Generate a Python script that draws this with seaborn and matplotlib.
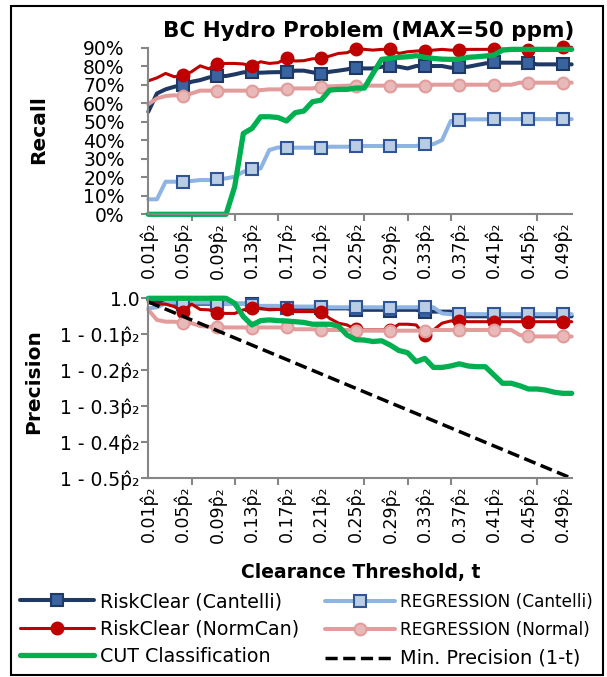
import matplotlib
matplotlib.use('Agg')
import pandas as pd
import seaborn as sns
import matplotlib.pyplot as plt
from matplotlib.lines import Line2D
from matplotlib.patches import Rectangle

# clearance thresholds t = 0.01 ... 0.50 (category axis)
thresholds = [round(0.01 * k, 2) for k in range(1, 51)]
label_pos = [0.01, 0.05, 0.09, 0.13, 0.17, 0.21, 0.25, 0.29, 0.33, 0.37, 0.41, 0.45, 0.49]
tickmark_pos = [0.01, 0.06, 0.11, 0.16, 0.21, 0.26, 0.31, 0.36, 0.41, 0.46]
x_labels = [f'{v:.2f}p\u0302\u2082' for v in label_pos]

recall_ticks = [0, 10, 20, 30, 40, 50, 60, 70, 80, 90]
recall_labels = ['0%', '10%', '20%', '30%', '40%', '50%', '60%', '70%', '80%', '90%']
prec_ticks = [1.0, 0.9, 0.8, 0.7, 0.6, 0.5]
prec_labels = ['1.0', '1 - 0.1p\u0302\u2082', '1 - 0.2p\u0302\u2082', '1 - 0.3p\u0302\u2082',
               '1 - 0.4p\u0302\u2082', '1 - 0.5p\u0302\u2082']

# recall (%)
rc_cantelli_recall = [55.4, 65.3, 67.5, 68.9, 69.8, 71.6, 72.5, 73.9, 74.7, 74.7,
                      75.6, 76.7, 76.7, 76.5, 76.7, 76.8, 76.7, 77.6, 77.6, 76.7,
                      75.9, 77.0, 77.6, 78.3, 79.2, 78.8, 78.8, 79.7, 80.1, 79.7,
                      78.8, 80.1, 80.1, 80.1, 80.1, 79.2, 79.7, 79.7, 80.6, 81.5,
                      82.1, 81.9, 81.9, 81.9, 81.9, 81.0, 81.0, 81.0, 81.0, 81.0]
reg_cantelli_recall = [8.1, 8.1, 17.6, 17.6, 17.6, 18.0, 18.5, 18.5, 18.9, 19.4,
                       20.3, 23.0, 24.3, 24.8, 34.7, 36.1, 36.0, 36.0, 36.0, 36.0,
                       36.0, 36.5, 36.5, 36.5, 36.9, 36.9, 36.9, 36.9, 36.9, 36.9,
                       36.9, 36.9, 37.9, 37.9, 40.1, 50.4, 50.9, 51.3, 51.3, 51.3,
                       51.4, 51.4, 51.4, 51.4, 51.4, 51.4, 51.4, 51.4, 51.4, 51.4]
rc_normcan_recall = [72.1, 73.7, 76.1, 74.3, 75.0, 77.0, 80.2, 78.6, 81.3, 81.5,
                     81.5, 81.2, 80.2, 82.4, 81.5, 81.9, 84.2, 82.8, 83.0, 84.0,
                     84.2, 85.5, 86.9, 87.3, 89.4, 89.1, 88.7, 89.1, 89.1, 86.9,
                     87.8, 88.2, 88.4, 88.7, 89.1, 88.7, 88.7, 89.1, 89.1, 89.1,
                     89.2, 89.2, 89.2, 89.2, 88.9, 89.1, 89.1, 89.1, 90.2, 90.2]
reg_normal_recall = [59.5, 62.6, 63.9, 64.3, 63.9, 65.3, 66.8, 66.8, 66.8, 66.8,
                     66.8, 66.8, 66.8, 67.1, 67.5, 67.5, 67.5, 68.0, 68.0, 68.0,
                     68.9, 69.1, 69.3, 69.5, 69.5, 69.5, 69.5, 69.5, 69.5, 69.5,
                     69.5, 69.5, 69.5, 70.0, 70.0, 70.0, 70.0, 70.0, 70.0, 70.0,
                     70.0, 70.0, 70.0, 71.1, 71.1, 71.1, 71.1, 71.1, 71.1, 71.1]
cut_recall = [0.0, 0.0, 0.0, 0.0, 0.0, 0.0, 0.0, 0.0, 0.0, 0.0,
              15.0, 43.7, 46.4, 52.7, 52.7, 52.3, 50.4, 54.9, 55.8, 60.8,
              61.7, 67.1, 67.5, 67.5, 68.2, 68.2, 76.1, 83.7, 84.2, 84.8,
              85.1, 85.7, 84.8, 84.2, 83.8, 83.7, 83.7, 84.8, 85.1, 85.5,
              86.0, 88.7, 89.1, 89.1, 89.1, 89.1, 89.1, 89.1, 89.1, 89.1]

# precision
rc_cantelli_prec = [0.995, 0.990, 0.985, 0.985, 0.985, 0.985, 0.985, 0.985, 0.988, 0.985,
                    0.985, 0.985, 0.985, 0.972, 0.972, 0.972, 0.972, 0.972, 0.972, 0.972,
                    0.972, 0.972, 0.972, 0.972, 0.968, 0.968, 0.968, 0.968, 0.966, 0.968,
                    0.968, 0.968, 0.963, 0.963, 0.963, 0.963, 0.950, 0.950, 0.950, 0.950,
                    0.950, 0.950, 0.950, 0.950, 0.950, 0.950, 0.950, 0.950, 0.950, 0.950]
reg_cantelli_prec = [0.972, 0.975, 0.986, 0.988, 0.988, 0.988, 0.988, 0.988, 0.988, 0.984,
                     0.984, 0.984, 0.981, 0.979, 0.979, 0.979, 0.972, 0.977, 0.977, 0.977,
                     0.977, 0.975, 0.975, 0.975, 0.975, 0.975, 0.975, 0.975, 0.972, 0.975,
                     0.975, 0.975, 0.977, 0.975, 0.958, 0.956, 0.956, 0.956, 0.956, 0.956,
                     0.956, 0.956, 0.956, 0.956, 0.956, 0.956, 0.956, 0.956, 0.956, 0.956]
rc_normcan_prec = [0.988, 0.984, 0.984, 0.977, 0.963, 0.984, 0.969, 0.968, 0.960, 0.958,
                   0.958, 0.968, 0.972, 0.972, 0.968, 0.969, 0.969, 0.963, 0.963, 0.963,
                   0.963, 0.944, 0.931, 0.926, 0.914, 0.912, 0.912, 0.912, 0.912, 0.928,
                   0.928, 0.926, 0.898, 0.912, 0.931, 0.937, 0.938, 0.935, 0.935, 0.935,
                   0.935, 0.935, 0.935, 0.935, 0.935, 0.935, 0.935, 0.935, 0.935, 0.935]
reg_normal_prec = [0.968, 0.940, 0.935, 0.935, 0.931, 0.931, 0.923, 0.921, 0.921, 0.919,
                   0.919, 0.919, 0.917, 0.919, 0.919, 0.919, 0.919, 0.914, 0.914, 0.914,
                   0.912, 0.912, 0.912, 0.912, 0.910, 0.910, 0.910, 0.910, 0.910, 0.910,
                   0.910, 0.910, 0.910, 0.912, 0.912, 0.912, 0.912, 0.912, 0.912, 0.912,
                   0.912, 0.912, 0.912, 0.898, 0.894, 0.894, 0.894, 0.894, 0.894, 0.894]
cut_prec = [1.000, 1.000, 1.000, 1.000, 1.000, 1.000, 1.000, 1.000, 1.000, 1.000,
            0.986, 0.949, 0.926, 0.938, 0.940, 0.938, 0.937, 0.935, 0.933, 0.928,
            0.928, 0.928, 0.923, 0.898, 0.885, 0.884, 0.880, 0.882, 0.870, 0.855,
            0.849, 0.824, 0.833, 0.808, 0.808, 0.812, 0.818, 0.812, 0.810, 0.810,
            0.787, 0.764, 0.764, 0.757, 0.748, 0.748, 0.745, 0.739, 0.736, 0.736]
min_prec_t = [0.01, 0.50]
min_prec = [0.99, 0.50]

names = ['RiskClear (Cantelli)', 'REGRESSION (Cantelli)', 'RiskClear (NormCan)',
         'REGRESSION (Normal)', 'CUT Classification']
recall_df = pd.DataFrame({'t': thresholds, names[0]: rc_cantelli_recall,
                          names[1]: reg_cantelli_recall, names[2]: rc_normcan_recall,
                          names[3]: reg_normal_recall, names[4]: cut_recall})
prec_df = pd.DataFrame({'t': thresholds, names[0]: rc_cantelli_prec,
                        names[1]: reg_cantelli_prec, names[2]: rc_normcan_prec,
                        names[3]: reg_normal_prec, names[4]: cut_prec})

styles = {
    names[0]: dict(color='#1F3864', lw=2.9, marker='s', ms=8.5, mfc='#3A64A0', mec='#1F3864'),
    names[1]: dict(color='#8DB4E2', lw=2.9, marker='s', ms=8.5, mfc='#B9CDE5', mec='#2F5597'),
    names[2]: dict(color='#C00000', lw=2.2, marker='o', ms=8.5, mfc='#C00000', mec='#C00000'),
    names[3]: dict(color='#E39C9C', lw=2.9, marker='o', ms=8.5, mfc='#E8B9B9', mec='#E39C9C'),
    names[4]: dict(color='#00B050', lw=3.8, marker=None, ms=0, mfc='none', mec='none'),
}
grey = '#868686'
dash = (3.5, 1.6)

sns.set_theme(style='white')
plt.rcParams['font.family'] = ['DejaVu Sans']
plt.rcParams['text.color'] = 'black'

fig = plt.figure(figsize=(6.07, 6.77), dpi=100)
W, H = 607, 677
ax1 = fig.add_axes([148.3 / W, 1 - 214.3 / H, 423.4 / W, 166.6 / H])
ax2 = fig.add_axes([148.3 / W, 1 - 478.3 / H, 423.4 / W, 180 / H])

for ax, df in [(ax1, recall_df), (ax2, prec_df)]:
    for name in names:
        st = styles[name]
        sns.lineplot(data=df, x='t', y=name, ax=ax, color=st['color'], lw=st['lw'],
                     marker=st['marker'], markersize=st['ms'], markerfacecolor=st['mfc'],
                     markeredgecolor=st['mec'], markeredgewidth=1.5,
                     markevery=slice(4, None, 4), errorbar=None, clip_on=False)
ax2.plot(min_prec_t, min_prec, color='black', lw=2.5, dashes=dash, clip_on=False)

for ax in (ax1, ax2):
    ax.set_xlim(0.01, 0.50)
    ax.set_xticks(label_pos)
    ax.set_xticklabels(x_labels, rotation=90, fontsize=12.5)
    ax.set_xticks(tickmark_pos, minor=True)
    ax.tick_params(axis='x', which='major', length=0, pad=5.5, labelcolor='black')
    ax.tick_params(axis='x', which='minor', length=5, width=1.5, color=grey, direction='out', bottom=True)
    ax.tick_params(axis='y', length=5, width=1.5, color=grey, direction='out', left=True,
                   labelcolor='black')
    sns.despine(ax=ax)
    for s in ('left', 'bottom'):
        ax.spines[s].set_color(grey)
        ax.spines[s].set_linewidth(1.5)
    ax.set_xlabel('')
    ax.set_ylabel('')
    ax.set_facecolor('none')

ax1.set_ylim(0, 90)
ax1.set_yticks(recall_ticks)
ax1.set_yticklabels(recall_labels, fontsize=13.5)
ax1.tick_params(axis='y', pad=12)
ax2.set_ylim(0.5, 1.0)
ax2.set_yticks(prec_ticks)
ax2.set_yticklabels(prec_labels, fontsize=13.5)
ax2.tick_params(axis='y', pad=1.5)

fig.text(369 / W, 1 - 37 / H, 'BC Hydro Problem (MAX=50 ppm)', ha='center', va='baseline',
         fontsize=15.5, fontweight='bold', color='black')
fig.text(38.5 / W, 1 - 130 / H, 'Recall', rotation=90, ha='center', va='center',
         fontsize=14.5, fontweight='bold', color='black')
fig.text(33.5 / W, 1 - 382 / H, 'Precision', rotation=90, ha='center', va='center',
         fontsize=14.5, fontweight='bold', color='black')
fig.text(360.5 / W, 1 - 578 / H, 'Clearance Threshold, t', ha='center', va='baseline',
         fontsize=13.5, fontweight='bold', color='black')

def handle(name):
    st = styles[name]
    return Line2D([], [], color=st['color'], lw=st['lw'], marker=st['marker'], ms=st['ms'],
                  mfc=st['mfc'], mec=st['mec'], mew=1.5)

left_handles = [handle(names[0]), handle(names[2]), handle(names[4])]
leg1 = fig.legend(left_handles, [names[0], names[2], names[4]], loc='upper left',
                  bbox_to_anchor=(20 / W, 1 - 592 / H), frameon=False, fontsize=13.7,
                  handlelength=3.9, handletextpad=0.32, labelspacing=0.45,
                  borderpad=0, borderaxespad=0, labelcolor='black')
right_handles = [handle(names[1]), handle(names[3]),
                 Line2D([], [], color='black', lw=2.5, dashes=dash)]
leg2 = fig.legend(right_handles, [names[1], names[3], 'Min. Precision (1-t)'], loc='upper left',
                  bbox_to_anchor=(325 / W, 1 - 593 / H), frameon=False, fontsize=12.2,
                  handlelength=4.14, handletextpad=0.3, labelspacing=0.58,
                  borderpad=0, borderaxespad=0, labelcolor='black')
leg2.get_texts()[2].set_fontsize(13.9)

fig.patches.append(Rectangle((11 / W, 1 - 675 / H), 592 / W, 669 / H, transform=fig.transFigure,
                             fill=False, edgecolor='black', lw=1.5))

fig.savefig('out.png', dpi=100)
